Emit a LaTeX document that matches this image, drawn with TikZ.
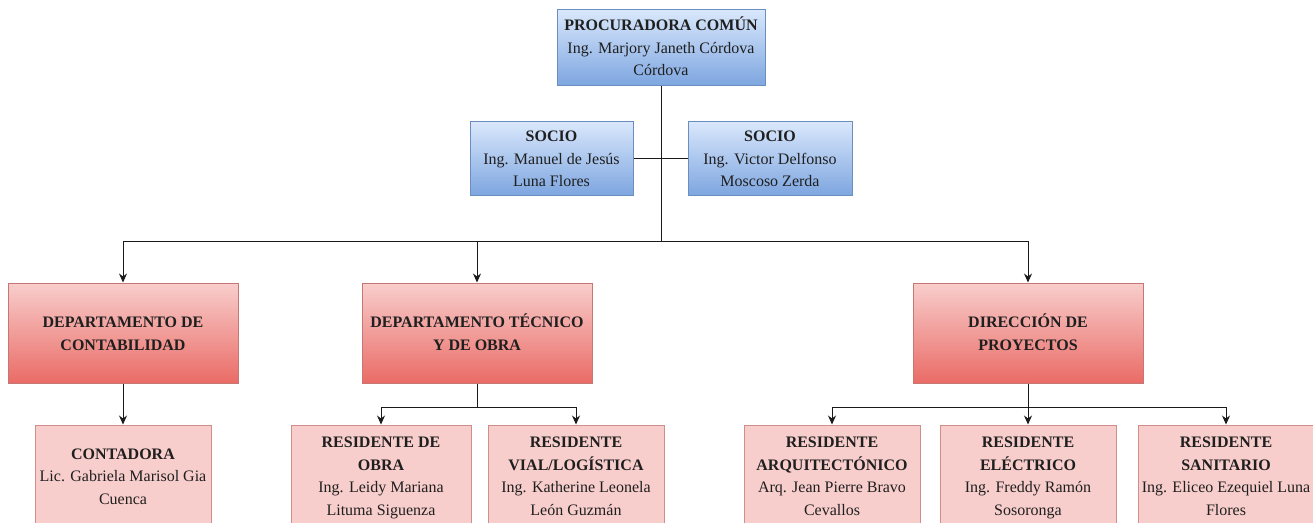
\documentclass[tikz,border=0pt]{standalone}
\usepackage{fontspec}
\setmainfont{Liberation Serif}
\usetikzlibrary{arrows.meta}
\definecolor{bluetop}{HTML}{DAE8FC}
\definecolor{bluebot}{HTML}{7EA6E0}
\definecolor{blueline}{HTML}{6C8EBF}
\definecolor{redtop}{HTML}{F8CECC}
\definecolor{redbot}{HTML}{EA6B66}
\definecolor{redline}{HTML}{B85450}
\definecolor{lightline}{HTML}{D08E8B}
\definecolor{connline}{HTML}{1A1A1A}
\newcommand{\boxlines}[1]{\raisebox{-1.5pt}[\height][\depth]{\begin{tabular}{@{}c@{}}#1\end{tabular}}}
\tikzset{
  boxbase/.style={rectangle, inner sep=2pt, line width=1pt,
    font=\fontsize{16}{22.5}\selectfont, text=black!88},
  bluebox/.style={boxbase, draw=blueline, top color=bluetop, bottom color=bluebot},
  deptbox/.style={boxbase, draw=redline!80, top color=redtop, bottom color=redbot,
    minimum width=230pt, minimum height=100pt},
  resbox/.style={boxbase, draw=lightline, fill=redtop, minimum height=101pt},
  conn/.style={draw=connline, line width=1pt},
  arr/.style={conn, -{Stealth[length=9pt,width=8pt]}}
}
\begin{document}
\begin{tikzpicture}[x=1pt,y=-1pt]
\useasboundingbox (0,0) rectangle (1313,522);
\clip (0,0) rectangle (1313,522);
% top
\node[bluebox, minimum width=208pt, minimum height=76pt] (top) at (661,47)
  {\boxlines{\textbf{PROCURADORA COMÚN}\\Ing. Marjory Janeth Córdova\\Córdova}};
\node[bluebox, minimum width=163pt, minimum height=74pt] (socioL) at (551.5,158)
  {\boxlines{\textbf{SOCIO}\\Ing. Manuel de Jesús\\Luna Flores}};
\node[bluebox, minimum width=164pt, minimum height=74pt] (socioR) at (770,158)
  {\boxlines{\textbf{SOCIO}\\Ing. Victor Delfonso\\Moscoso Zerda}};
% departments
\node[deptbox] (contab) at (123,333) {\boxlines{\textbf{DEPARTAMENTO DE}\\\textbf{CONTABILIDAD}}};
\node[deptbox] (tec) at (477,333) {\boxlines{\textbf{DEPARTAMENTO TÉCNICO}\\\textbf{Y DE OBRA}}};
\node[deptbox] (dir) at (1028,333) {\boxlines{\textbf{DIRECCIÓN DE}\\\textbf{PROYECTOS}}};
% residents
\node[resbox, minimum width=176pt] (contadora) at (123,475.5)
  {\boxlines{\textbf{CONTADORA}\\Lic. Gabriela Marisol Gia\\Cuenca}};
\node[resbox, minimum width=180pt] (obra) at (381,475.5)
  {\boxlines{\textbf{RESIDENTE DE}\\\textbf{OBRA}\\Ing. Leidy Mariana\\Lituma Siguenza}};
\node[resbox, minimum width=176pt] (vial) at (576,475.5)
  {\boxlines{\textbf{RESIDENTE}\\\textbf{VIAL/LOGÍSTICA}\\Ing. Katherine Leonela\\León Guzmán}};
\node[resbox, minimum width=176pt] (arq) at (832,475.5)
  {\boxlines{\textbf{RESIDENTE}\\\textbf{ARQUITECTÓNICO}\\Arq. Jean Pierre Bravo\\Cevallos}};
\node[resbox, minimum width=176pt] (elec) at (1028,475.5)
  {\boxlines{\textbf{RESIDENTE}\\\textbf{ELÉCTRICO}\\Ing. Freddy Ramón\\Sosoronga}};
\node[resbox, minimum width=176pt] (sanit) at (1226,475.5)
  {\boxlines{\textbf{RESIDENTE}\\\textbf{SANITARIO}\\Ing. Eliceo Ezequiel Luna\\Flores}};
% connectors
\coordinate (bus1) at (661,241);
\coordinate (bus2) at (477,407);
\coordinate (bus3) at (1028,407);
\draw[conn] (top.south) -- (bus1);
\draw[conn] (socioL.east) -- (socioR.west);
\draw[arr] (bus1) -| (contab.north);
\draw[arr] (bus1) -| (tec.north);
\draw[arr] (bus1) -| (dir.north);
\draw[arr] (contab.south) -- (contadora.north);
\draw[conn] (tec.south) -- (bus2);
\draw[arr] (bus2) -| (obra.north);
\draw[arr] (bus2) -| (vial.north);
\draw[conn] (dir.south) -- (bus3);
\draw[arr] (bus3) -| (arq.north);
\draw[arr] (bus3) -- (elec.north);
\draw[arr] (bus3) -| (sanit.north);
\end{tikzpicture}
\end{document}
